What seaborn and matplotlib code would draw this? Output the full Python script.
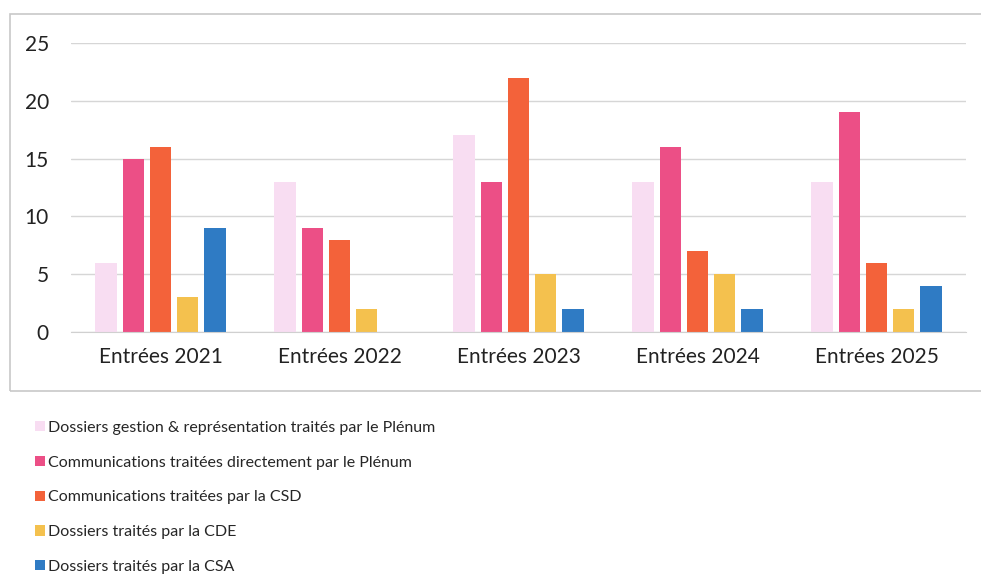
import seaborn as sns
import matplotlib.pyplot as plt
import pandas as pd
from matplotlib.patches import Rectangle, Patch

# data
categories = ["Entrées 2021", "Entrées 2022", "Entrées 2023", "Entrées 2024", "Entrées 2025"]
series = [
    "Dossiers gestion & représentation traités par le Plénum",
    "Communications traitées directement par le Plénum",
    "Communications traitées par la CSD",
    "Dossiers traités par la CDE",
    "Dossiers traités par la CSA",
]
gestion_plenum = [6, 13, 17, 13, 13]
comm_plenum = [15, 9, 13, 16, 19]
comm_csd = [16, 8, 22, 7, 6]
dossiers_cde = [3, 2, 5, 5, 2]
dossiers_csa = [9, 0, 2, 2, 4]
colors = ["#F8DDF2", "#EC4F86", "#F3623A", "#F4C14E", "#2F7BC4"]

values = [gestion_plenum, comm_plenum, comm_csd, dossiers_cde, dossiers_csa]
rows = []
for s, vals in zip(series, values):
    for c, v in zip(categories, vals):
        rows.append({"cat": c, "serie": s, "val": v})
df = pd.DataFrame(rows)

sns.set_style("white")
plt.rcParams['font.family'] = ['Lato', 'DejaVu Sans']

fig = plt.figure(figsize=(9.81, 5.75), dpi=100)
ax = fig.add_axes([0.0724, 0.4226, 0.9123, 0.5026])

sns.barplot(data=df, x="cat", y="val", hue="serie", hue_order=series,
            palette=colors, saturation=1, width=0.76, gap=0.21, linewidth=0,
            legend=False, ax=ax)

ax.set_ylim(0, 25)
ax.set_yticks([0, 5, 10, 15, 20, 25])
ax.set_xlim(-0.5, 4.5)
ax.yaxis.grid(True, color="#d6d6d6", linewidth=1)
ax.set_axisbelow(True)
for sp in ["top", "right", "left"]:
    ax.spines[sp].set_visible(False)
ax.spines["bottom"].set_color("#d0d0d0")
ax.tick_params(axis="y", labelsize=15, pad=16, length=0, colors="#222222")
ax.tick_params(axis="x", labelsize=15, pad=11, length=0, colors="#222222")
ax.set_xlabel("")
ax.set_ylabel("")

# cadre du graphique
fig.patches.append(Rectangle((10 / 981, 1 - 391 / 575), 1.0, (391 - 14) / 575,
                             transform=fig.transFigure, fill=False,
                             edgecolor="#c8c8c8", linewidth=1.2))

handles = [Patch(facecolor=c, edgecolor="none") for c in colors]
fig.legend(handles, series, loc="upper left", bbox_to_anchor=(0.028, 0.282),
           frameon=False, fontsize=11.5, handlelength=0.6, handleheight=0.6,
           handletextpad=0.2, labelspacing=1.3, borderpad=0)

fig.savefig("out.png", dpi=100)
